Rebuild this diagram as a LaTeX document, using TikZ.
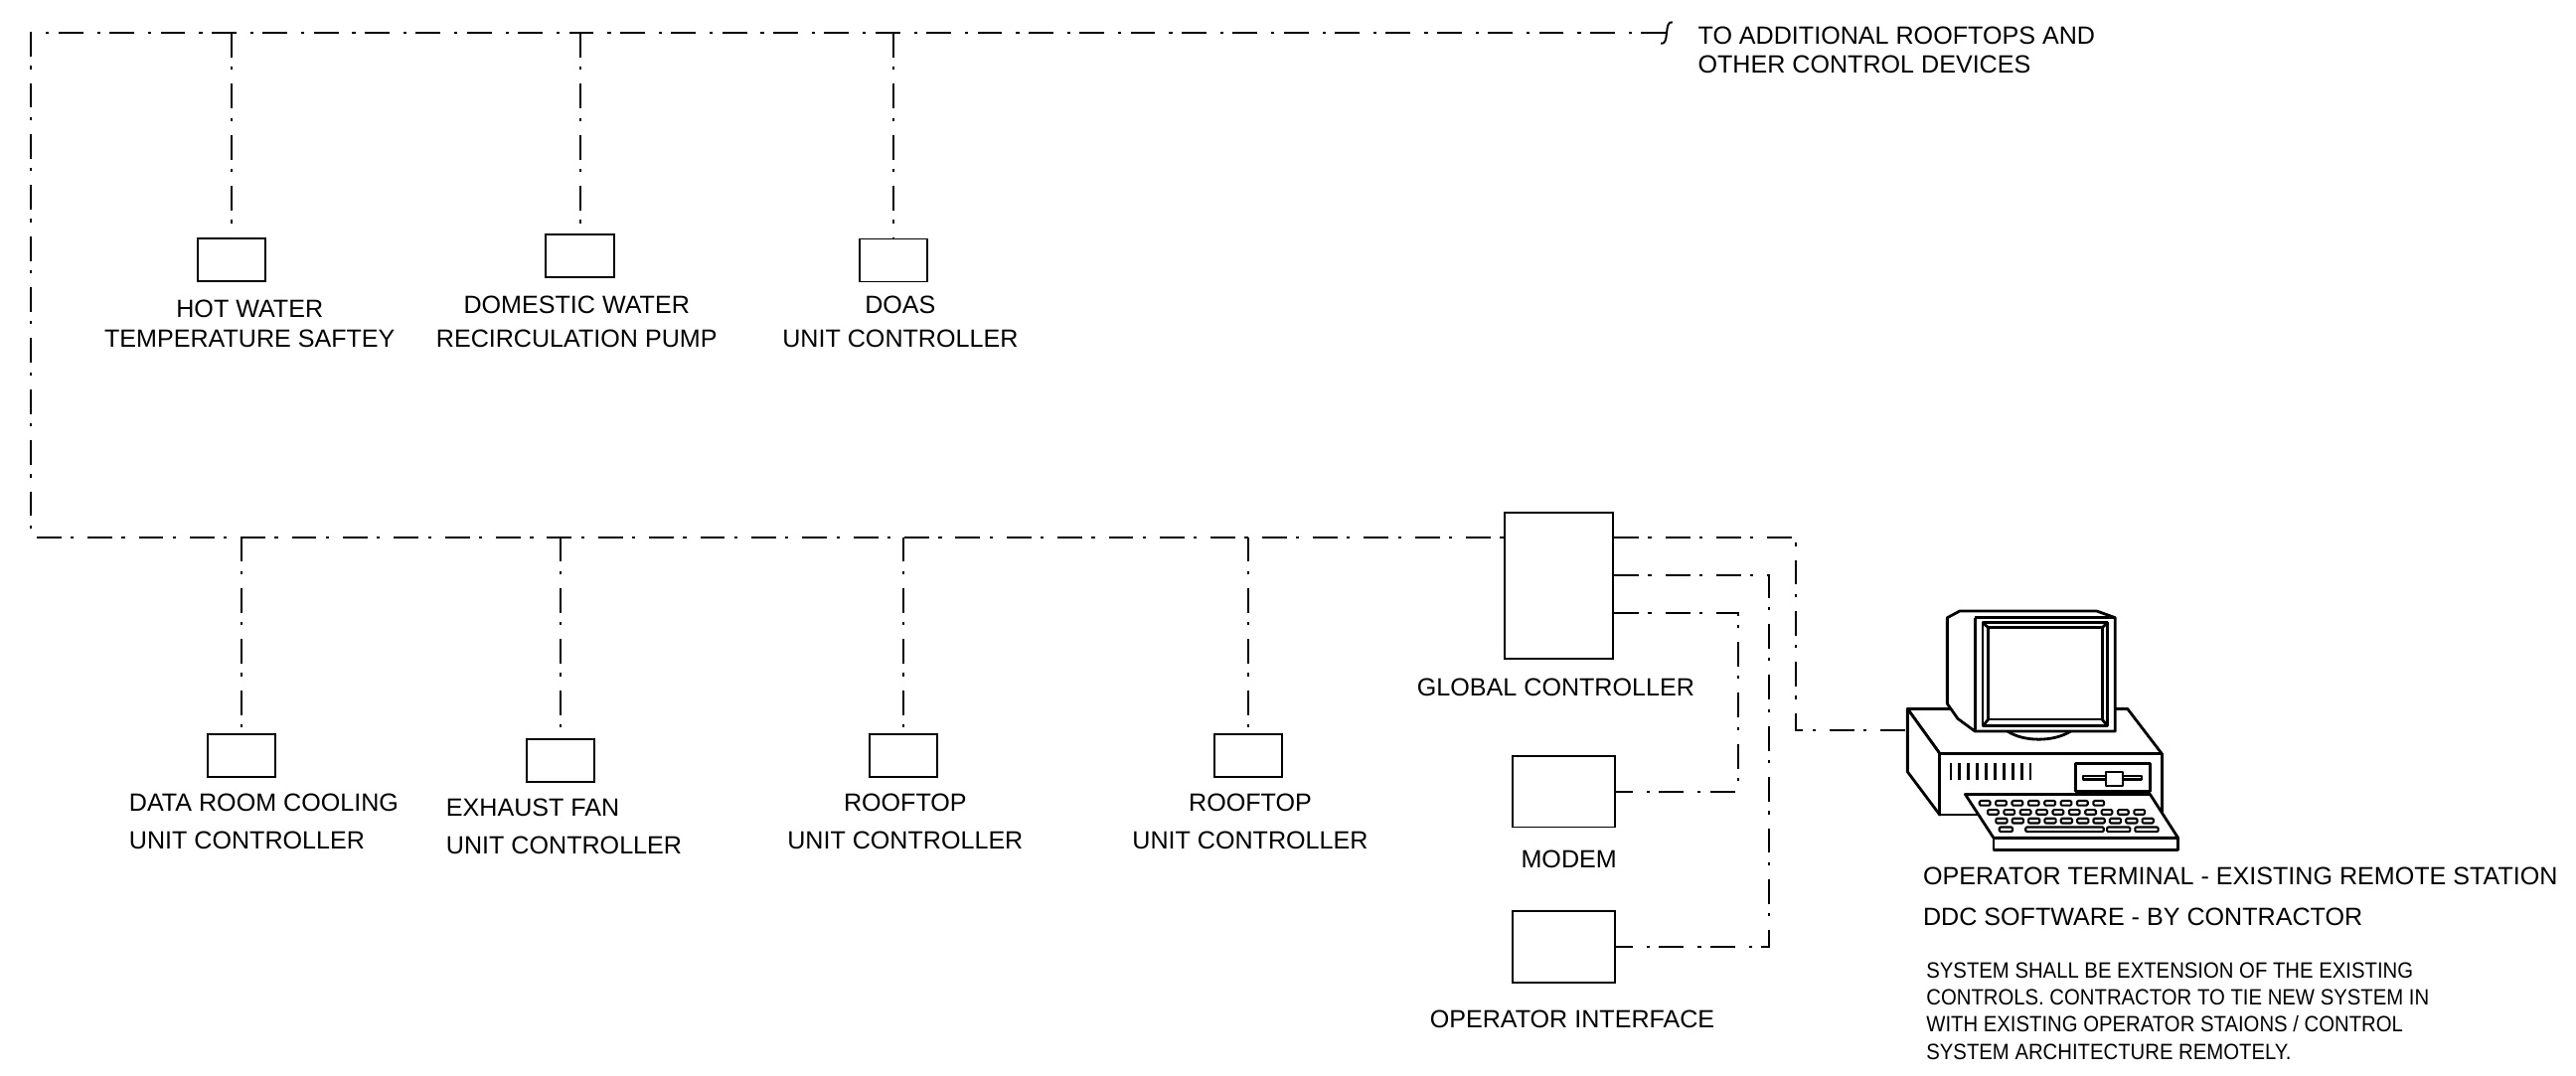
\documentclass[tikz,border=0pt]{standalone}
\usepackage{fontspec}
\setmainfont{Liberation Sans}
\newfontfamily\notefont[FakeStretch=0.91]{Liberation Sans}

\begin{document}
\begin{tikzpicture}[
  x=0.025cm, y=-0.025cm,
  line width=0.85pt,
  bus/.style={dash pattern=on 10.7pt off 4pt on 1.4pt off 6pt},
  dev/.style={draw, rectangle, inner sep=0pt, minimum width=1.03cm, minimum height=0.65cm},
  ctl/.style={draw, rectangle, inner sep=0pt, minimum width=1.55cm, minimum height=1.08cm},
  lbl/.style={font=\fontsize{10.8}{14.6}\selectfont, inner sep=0pt, anchor=north, align=center},
  lblb/.style={lbl, font=\fontsize{10.8}{16.6}\selectfont},
  pc/.style={line width=1.2pt, line join=round},
  key/.style={line width=0.9pt, rounded corners=0.5pt},
]

\useasboundingbox (0,0) rectangle (1568,655);

% bus corners
\coordinate (tl) at (19,20);
\coordinate (bl) at (19,327);
\coordinate (tr) at (1014,20);

% field devices
\node [dev] (hw) at (141,158) {};
\node [dev] (dw) at (353,155.5) {};
\node [dev] (doas) at (544,158.5) {};
\node [dev] (drc) at (147,460) {};
\node [dev] (ef) at (341,463) {};
\node [dev] (rt1) at (550,460) {};
\node [dev] (rt2) at (760,460) {};

% panels
\node [draw, inner sep=0pt, minimum width=1.65cm, minimum height=2.23cm] (gc) at (949,356.5) {};
\node [ctl] (modem) at (952,482) {};
\node [ctl] (oi) at (952,576.5) {};

% labels
\node [lbl, font=\fontsize{10.8}{13}\selectfont] (hwl) at (152,182) {HOT WATER\\TEMPERATURE SAFTEY};
\node [lbl] (dwl) at (351,179.5) {DOMESTIC WATER\\RECIRCULATION PUMP};
\node [lbl] (doasl) at (548,179.5) {DOAS\\UNIT CONTROLLER};
\node [lblb, anchor=north west, align=left] (drcl) at (78,482.5) {DATA ROOM COOLING\\UNIT CONTROLLER};
\node [lblb, anchor=north west, align=left] (efl) at (271,485.5) {EXHAUST FAN\\UNIT CONTROLLER};
\node [lblb] (rt1l) at (551,482.5) {ROOFTOP\\UNIT CONTROLLER};
\node [lblb] (rt2l) at (761,482.5) {ROOFTOP\\UNIT CONTROLLER};
\node [lbl] (gcl) at (947,412.5) {GLOBAL CONTROLLER};
\node [lbl] (modeml) at (955,517.5) {MODEM};
\node [lbl] (oil) at (957,614.5) {OPERATOR INTERFACE};
\node [lbl, anchor=north west, align=left, font=\fontsize{10.8}{12.8}\selectfont] (more) at (1033,15.5)
  {TO ADDITIONAL ROOFTOPS AND\\OTHER CONTROL DEVICES};
\node [lbl, anchor=north west, align=left, font=\fontsize{10.8}{17.6}\selectfont] (terml) at (1170,527.5)
  {OPERATOR TERMINAL - EXISTING REMOTE STATION\\DDC SOFTWARE - BY CONTRACTOR};
\node [lbl, anchor=north west, align=left, font=\notefont\fontsize{9.6}{11.7}\selectfont] (note) at (1172,585.6)
  {SYSTEM SHALL BE EXTENSION OF THE EXISTING\\CONTROLS. CONTRACTOR TO TIE NEW SYSTEM IN\\WITH EXISTING OPERATOR STAIONS / CONTROL\\SYSTEM ARCHITECTURE REMOTELY.};

% main bus
\draw [bus] (tr) -- (tl) -- (bl) -- (gc.west |- bl);
\draw (1018,13.5) .. controls (1012.5,12.5) and (1016.5,27.5) .. (1011,26.5);

\foreach \n in {hw,dw,doas}
  \draw [bus] (\n.north |- tl) -- (\n.north);
\foreach \n in {drc,ef,rt1,rt2}
  \draw [bus] (\n.north |- bl) -- (\n.north);

% global controller links
\coordinate (r1) at (1093,444.7);
\coordinate (r2) at (1077,350);
\coordinate (r3) at (1058,373);
\coordinate (pcin) at (1161.1,444.7);
\draw [bus] (gc.east |- bl) -| (r1) -- (pcin);
\draw [bus] (gc.east |- r2) -| (r2 |- oi.east) -- (oi.east);
\draw [bus] (gc.east |- r3) -| (r3 |- modem.east) -- (modem.east);

% operator terminal
\begin{scope}[pc]
  % case
  \draw [fill=white] (pcin |- 0,431.6) -- (1295,431.6) -- (1315.8,458.8) -- (1180.7,458.8) -- cycle;
  \draw [fill=white] (1161.1,431.6) -- (1161.1,469.9) -- (1180.7,496.1) -- (1180.7,458.8) -- cycle;
  \draw [fill=white] (1180.7,458.8) rectangle (1315.8,496.1);
  \foreach \i in {0,...,9}
    \draw [line width=1pt] (1187.3+5.42*\i,464.8) -- ++(0,10.1);
  \draw (1263.3,464.8) rectangle (1308.7,481.6);
  \draw [line width=0.9pt] (1268,472.4) rectangle (1303.7,474.6);
  \draw [fill=white, line width=0.9pt] (1282.1,469.9) rectangle (1292.2,478.3);
  % stand
  \draw (1222,445.3) .. controls (1232,451.8) and (1250,451.8) .. (1260.3,445.3);
  % monitor
  \draw [fill=white] (1185.3,376.1) -- (1192.8,372.1) -- (1276.4,372.1) -- (1287.5,376.1)
    -- (1287.5,445.3) -- (1202.2,445.3) -- (1191.7,437.6) -- (1185.3,428.5) -- cycle;
  \draw (1202.2,376.1) -- (1202.2,445.3);
  \draw (1202.2,376.1) -- (1287.5,376.1);
  \draw (1206.9,379.1) rectangle (1282.9,442);
  \draw (1210.3,382.2) rectangle (1279.5,438);
  \draw (1206.9,379.1) -- (1210.3,382.2);
  \draw (1282.9,379.1) -- (1279.5,382.2);
  \draw (1206.9,442) -- (1210.3,438);
  \draw (1282.9,442) -- (1279.5,438);
  % keyboard
  \draw [fill=white] (1196.2,483.6) -- (1308.7,483.6) -- (1325.8,510.2) -- (1213.5,510.2) -- cycle;
  \draw [fill=white] (1213.5,510.2) rectangle (1325.8,517.3);
  \foreach \i in {0,...,7}
    \draw [key] (1204.9+9.9*\i,487.6) rectangle ++(6.5,2.8);
  \foreach \i in {0,...,9}
    \draw [key] (1209.9+9.9*\i,493.1) rectangle ++(6.5,2.8);
  \foreach \i in {0,...,9}
    \draw [key] (1214.9+9.9*\i,498.3) rectangle ++(6.8,2.9);
  \draw [key] (1217,503.6) rectangle (1225,506.4);
  \draw [key] (1233,503.6) rectangle (1280.5,506.4);
  \draw [key] (1282.5,503.6) rectangle (1296.6,506.4);
  \draw [key] (1299.6,503.6) rectangle (1313.7,506.4);
\end{scope}

\end{tikzpicture}
\end{document}
